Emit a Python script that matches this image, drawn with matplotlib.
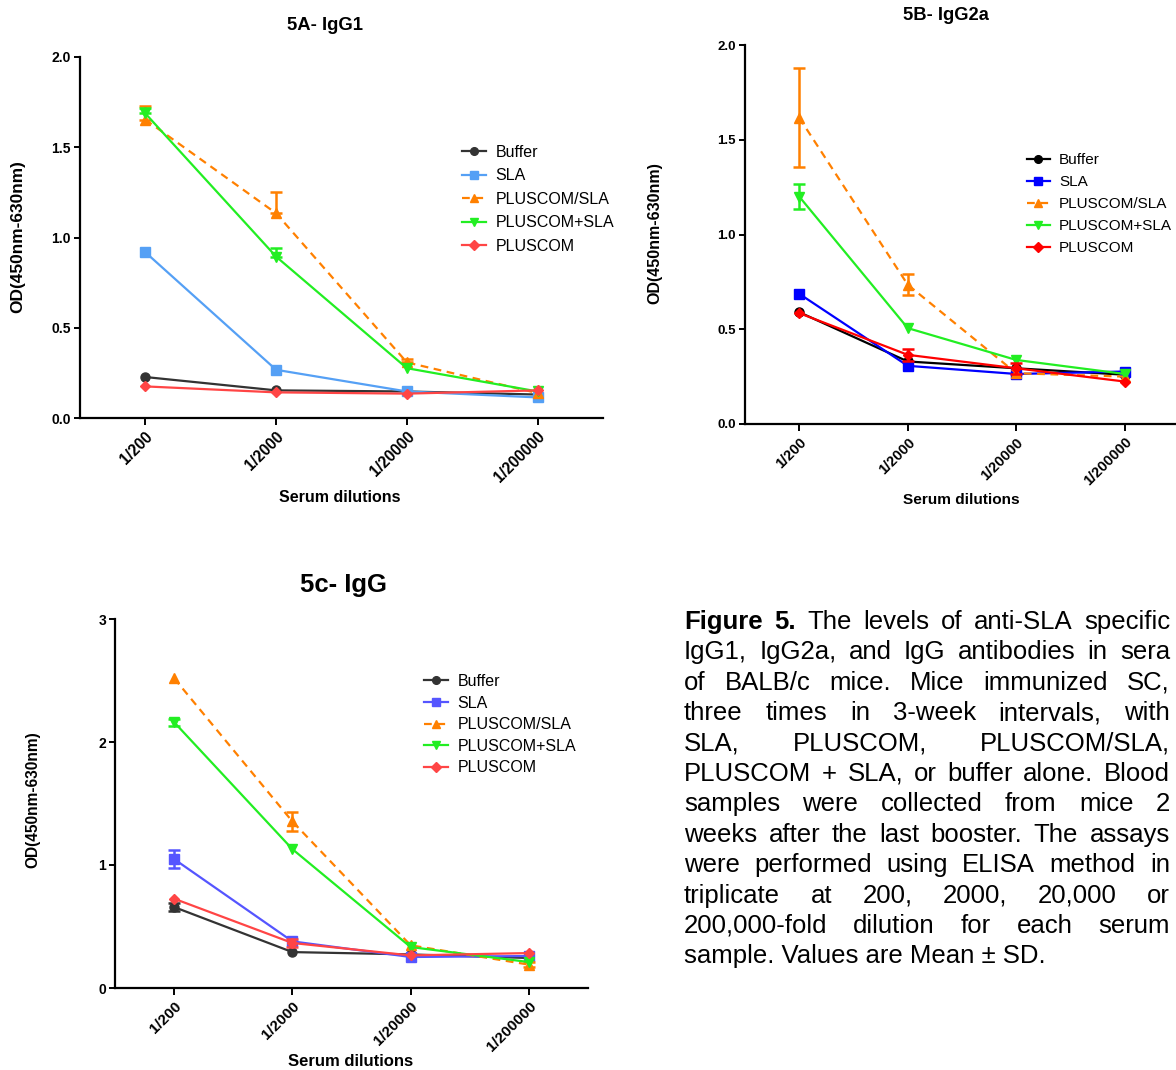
import numpy as np
import matplotlib
matplotlib.use("Agg")
import matplotlib.pyplot as plt

plt.rcParams['font.family'] = ['Liberation Sans', 'DejaVu Sans']

W, H = 1176, 1070

# ---------------- data ----------------
dilutions = ["1/200", "1/2000", "1/20000", "1/200000"]
groups = ["Buffer", "SLA", "PLUSCOM/SLA", "PLUSCOM+SLA", "PLUSCOM"]

# Panel A: IgG1
a_buffer = [0.227, 0.153, 0.147, 0.130]
a_sla = [0.918, 0.267, 0.147, 0.114]
a_pc_sla = [1.653, 1.134, 0.308, 0.138]
a_pc_plus = [1.687, 0.894, 0.276, 0.147]
a_pluscom = [0.175, 0.142, 0.135, 0.153]
a_err_pc_sla = [0.074, 0.116, 0.020, 0.0]
a_err_pc_plus = [0.030, 0.046, 0.0, 0.0]

# Panel B: IgG2a
b_buffer = [0.590, 0.330, 0.294, 0.260]
b_sla = [0.687, 0.307, 0.264, 0.277]
b_pc_sla = [1.616, 0.735, 0.268, 0.250]
b_pc_plus = [1.200, 0.506, 0.338, 0.264]
b_pluscom = [0.585, 0.365, 0.294, 0.224]
b_err_pc_sla = [0.260, 0.055, 0.0, 0.0]
b_err_pc_plus = [0.065, 0.0, 0.0, 0.0]
b_err_pluscom = [0.0, 0.030, 0.030, 0.0]

# Panel C: IgG
c_buffer = [0.658, 0.292, 0.273, 0.244]
c_sla = [1.048, 0.379, 0.252, 0.260]
c_pc_sla = [2.518, 1.354, 0.347, 0.190]
c_pc_plus = [2.161, 1.129, 0.333, 0.211]
c_pluscom = [0.726, 0.366, 0.265, 0.284]
c_err_buffer = [0.030, 0.0, 0.0, 0.0]
c_err_sla = [0.076, 0.0, 0.0, 0.0]
c_err_pc_sla = [0.0, 0.076, 0.0, 0.020]
c_err_pc_plus = [0.030, 0.0, 0.0, 0.0]
c_err_pluscom = [0.0, 0.030, 0.0, 0.0]

caption_lines = [
    "Figure 5. The levels of anti-SLA specific",
    "IgG1, IgG2a, and IgG antibodies in sera",
    "of BALB/c mice. Mice immunized SC,",
    "three times in 3-week intervals, with",
    "SLA, PLUSCOM, PLUSCOM/SLA,",
    "PLUSCOM + SLA, or buffer alone. Blood",
    "samples were collected from mice 2",
    "weeks after the last booster. The assays",
    "were performed using ELISA method in",
    "triplicate at 200, 2000, 20,000 or",
    "200,000-fold dilution for each serum",
    "sample. Values are Mean \u00b1 SD.",
]

markers = ['o', 's', '^', 'v', 'D']
styles = ['-', '-', (0, (3.5, 2.5)), '-', '-']

fig = plt.figure(figsize=(W / 100, H / 100), dpi=100)


def fx(px):
    return px / W


def fy(py):
    return 1 - py / H


def make_axes(left, right, top, bottom):
    return fig.add_axes([fx(left), fy(bottom), fx(right) - fx(left), fy(top) - fy(bottom)])


def panel(ax, series, errs, upper_only, colors, ymax, yticks, yfmt, title, title_pos, title_fs,
          xlabel_pos, xlabel_fs, ylabel_pos, ylabel_fs, tick_fs, ytick_fs, leg_pos, leg_fs, leg_sp):
    x = np.arange(len(dilutions))
    handles = []
    for i, (vals, err) in enumerate(zip(series, errs)):
        vals = np.array(vals)
        c = colors[i]
        if err is not None:
            err = np.array(err)
            m = err > 0
            if m.any():
                lower = np.zeros(m.sum()) if upper_only else err[m]
                ax.errorbar(x[m], vals[m], yerr=[lower, err[m]], fmt='none', ecolor=c,
                            elinewidth=1.8, capsize=4.5, capthick=1.8, zorder=2 + i)
        h, = ax.plot(x, vals, linestyle=styles[i], color=c, lw=1.6, marker=markers[i],
                     markersize=6.5 if markers[i] != 'D' else 5.5, markeredgecolor=c,
                     markerfacecolor=c, zorder=3 + i, clip_on=False)
        handles.append(h)
    ax.set_xlim(-0.5, 3.5)
    ax.set_ylim(0, ymax)
    ax.set_xticks(x)
    ax.set_xticklabels(dilutions, rotation=45, ha='right', rotation_mode='anchor',
                       fontsize=tick_fs, fontweight='bold')
    ax.set_yticks(yticks)
    ax.set_yticklabels([yfmt.format(v) for v in yticks], fontsize=ytick_fs, fontweight='bold')
    for s in ['top', 'right']:
        ax.spines[s].set_visible(False)
    for s in ['left', 'bottom']:
        ax.spines[s].set_linewidth(1.6)
    ax.tick_params(axis='both', width=1.4, length=4.5, direction='out', pad=2)
    ax.tick_params(axis='x', length=5, pad=3)
    fig.text(fx(title_pos[0]), fy(title_pos[1]), title, fontsize=title_fs, fontweight='bold',
             ha='center', va='center')
    fig.text(fx(xlabel_pos[0]), fy(xlabel_pos[1]), "Serum dilutions", fontsize=xlabel_fs,
             fontweight='bold', ha='center', va='center')
    fig.text(fx(ylabel_pos[0]), fy(ylabel_pos[1]), "OD(450nm-630nm)", fontsize=ylabel_fs,
             fontweight='bold', ha='center', va='center', rotation=90)
    ax.legend(handles, groups, loc='upper left', bbox_to_anchor=(fx(leg_pos[0]), fy(leg_pos[1])),
              bbox_transform=fig.transFigure, frameon=False, borderpad=0, borderaxespad=0,
              handlelength=1.5, handletextpad=0.6, labelspacing=leg_sp, fontsize=leg_fs,
              markerscale=0.85)


col_a = ['#333333', '#55a0f5', '#ff8000', '#22ee22', '#ff4545']
col_b = ['#000000', '#0000ff', '#ff8000', '#22ee22', '#ff0000']
col_c = ['#333333', '#5555ff', '#ff8000', '#22ee22', '#ff4545']

axA = make_axes(80, 603, 57, 418)
panel(axA, [a_buffer, a_sla, a_pc_sla, a_pc_plus, a_pluscom],
      [None, None, a_err_pc_sla, a_err_pc_plus, None], True, col_a,
      2.0, [0, 0.5, 1.0, 1.5, 2.0], "{:.1f}", "5A- IgG1", (325, 26), 13.3,
      (340, 498), 11.5, (18, 237), 12.4, 11.2, 10, (462, 145), 11.5, 0.53)

axB = make_axes(745, 1179, 45, 424)
panel(axB, [b_buffer, b_sla, b_pc_sla, b_pc_plus, b_pluscom],
      [None, None, b_err_pc_sla, b_err_pc_plus, b_err_pluscom], False, col_b,
      2.0, [0, 0.5, 1.0, 1.5, 2.0], "{:.1f}", "5B- IgG2a", (946, 15), 13.2,
      (961, 500), 11.1, (655, 233), 11.5, 10.5, 9.5, (1027, 153), 11, 0.53)

axC = make_axes(115, 588, 619, 988)
panel(axC, [c_buffer, c_sla, c_pc_sla, c_pc_plus, c_pluscom],
      [c_err_buffer, c_err_sla, c_err_pc_sla, c_err_pc_plus, c_err_pluscom], False, col_c,
      3.0, [0, 1, 2, 3], "{:.0f}", "5c- IgG", (343, 585), 18.5,
      (351, 1061), 12, (33, 800), 11.2, 11, 10, (424, 674), 11.5, 0.41)

# ---------------- justified caption ----------------
renderer = fig.canvas.get_renderer()
cap_fs = 18.5
x_left, x_right = 684, 1170
base0, spacing = 629, 30.4
for li, line in enumerate(caption_lines):
    ypx = base0 + li * spacing
    last = li == len(caption_lines) - 1
    if last:
        fig.text(fx(x_left), fy(ypx), line, fontsize=cap_fs, ha='left', va='baseline')
        continue
    words = line.split(' ')
    texts = []
    widths = []
    for wi, w in enumerate(words):
        weight = 'bold' if (li == 0 and wi < 2) else 'normal'
        t = fig.text(0, 0, w, fontsize=cap_fs, fontweight=weight, ha='left', va='baseline')
        bb = t.get_window_extent(renderer=renderer)
        texts.append(t)
        widths.append(bb.width)
    gap = (x_right - x_left - sum(widths)) / (len(words) - 1)
    xpos = x_left
    for t, wdt in zip(texts, widths):
        t.set_position((fx(xpos), fy(ypx)))
        xpos += wdt + gap

fig.savefig("out.png", dpi=100)
